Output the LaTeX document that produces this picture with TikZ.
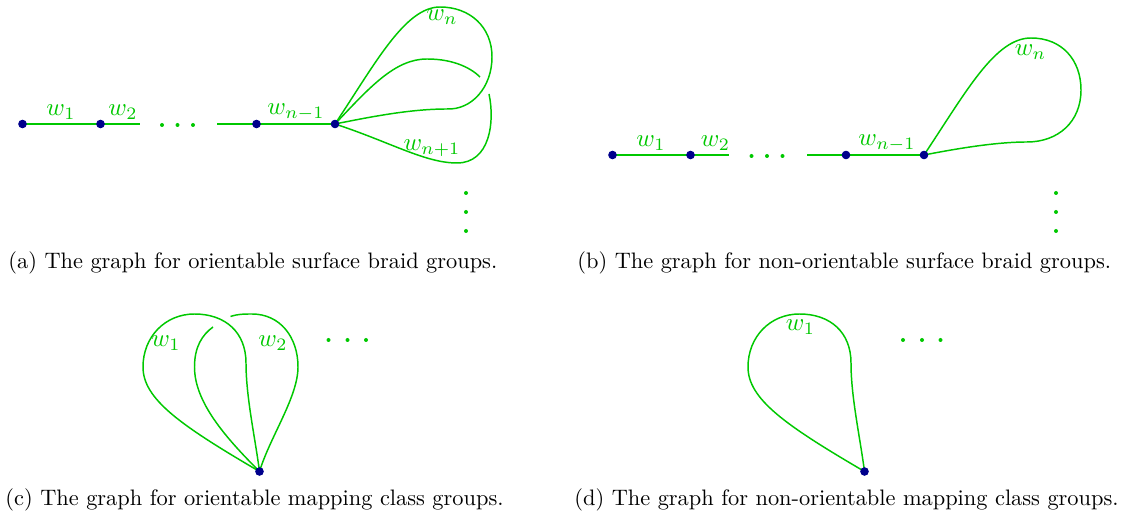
\documentclass[tikz,border=0pt]{standalone}
\usepackage{amsmath,amssymb}
\usetikzlibrary{positioning,calc}
\definecolor{edgegreen}{RGB}{0,200,0}
\definecolor{vertblue}{RGB}{0,0,140}
\tikzset{
  edge/.style={draw=edgegreen,line width=0.65pt},
  vert/.style={draw=vertblue,fill=vertblue},
  lbl/.style={text=edgegreen,inner sep=0pt,scale=1.1},
  captext/.style={anchor=west,inner sep=0pt,scale=0.985}
}
\begin{document}
\begin{tikzpicture}[x=0.44pt,y=0.44pt]
	\useasboundingbox (0,0) rectangle (1121,517);
	% (a) orientable surface braid groups
	\coordinate (a1) at (22.5,393);
	\coordinate (a2) at (100.5,393);
	\coordinate (a2e) at (140,393);
	\coordinate (a3s) at (217,393);
	\coordinate (a3) at (256.5,393);
	\coordinate (a4) at (335,393);
	\draw[edge] (a1) -- (a2) -- (a2e);
	\draw[edge] (a3s) -- (a3) -- (a4);
	\draw[edge] (a4) .. controls (375,453) and (405,510) .. (440,510)
		.. controls (470,510) and (492,490) .. (492,460)
		.. controls (492,430) and (472,407) .. (447,408)
		.. controls (410,408) and (370,400) .. (a4);
	\draw[edge] (a4) .. controls (370,430) and (395,458) .. (427,458)
		.. controls (455,458) and (472,448) .. (480,440);
	\draw[edge] (489,423) .. controls (495,395) and (490,354) .. (457,354)
		.. controls (425,354) and (390,375) .. (a4);
	\foreach \x in {162,177.5,193} \fill[edgegreen] (\x,392) circle (2);
	\foreach \y in {324,305,286} \fill[edgegreen] (466,\y) circle (2);
	\foreach \v in {a1,a2,a3,a4} \draw[vert] (\v) circle (3.8);
	\node[lbl] (la1) at (61,405) {$w_1$};
	\node[lbl] (la2) at (123,405) {$w_2$};
	\node[lbl] (la3) at (296,405) {$w_{n-1}$};
	\node[lbl] (la4) at (442,500) {$w_n$};
	\node[lbl] (la5) at (432,369) {$w_{n+1}$};
	\node[captext] (capa) at (8,254) {(a) The graph for orientable surface braid groups.};
	% (b) non-orientable surface braid groups
	\coordinate (b1) at (612.5,362);
	\coordinate (b2) at (690.5,362);
	\coordinate (b2e) at (729,362);
	\coordinate (b3s) at (807,362);
	\coordinate (b3) at (846,362);
	\coordinate (b4) at (924,362);
	\draw[edge] (b1) -- (b2) -- (b2e);
	\draw[edge] (b3s) -- (b3) -- (b4);
	\draw[edge] (b4) .. controls (966,425) and (995,479) .. (1031,479)
		.. controls (1062,479) and (1081,457) .. (1081,427)
		.. controls (1081,395) and (1058,375) .. (1027,375)
		.. controls (995,375) and (955,368) .. (b4);
	\foreach \x in {751.5,767,782.5} \fill[edgegreen] (\x,361) circle (2);
	\foreach \y in {324,305,286} \fill[edgegreen] (1056,\y) circle (2);
	\foreach \v in {b1,b2,b3,b4} \draw[vert] (\v) circle (3.8);
	\node[lbl] (lb1) at (651,374) {$w_1$};
	\node[lbl] (lb2) at (715.5,374) {$w_2$};
	\node[lbl] (lb3) at (887,374) {$w_{n-1}$};
	\node[lbl] (lb4) at (1030.5,465) {$w_n$};
	\node[captext] (capb) at (577,254) {(b) The graph for non-orientable surface braid groups.};
	% (c) orientable mapping class groups
	\coordinate (c0) at (259.5,45.5);
	\draw[edge] (c0) .. controls (180,92) and (143,118) .. (143,150)
		.. controls (143,180) and (165,203) .. (194.5,203)
		.. controls (225,203) and (246,185) .. (246,154)
		.. controls (246,120) and (255,80) .. (c0);
	\draw[edge] (c0) .. controls (225,80) and (194.5,115) .. (194.5,150)
		.. controls (194.5,170) and (202,182) .. (213,190);
	\draw[edge] (230.5,200.5) .. controls (238,203) and (244,203) .. (252,203)
		.. controls (280,203) and (298,180) .. (298,150)
		.. controls (298,120) and (270,80) .. (c0);
	\foreach \x in {328.5,347.5,366} \fill[edgegreen] (\x,177) circle (2);
	\draw[vert] (c0) circle (3.8);
	\node[lbl] (lc1) at (166,174) {$w_1$};
	\node[lbl] (lc2) at (273,174) {$w_2$};
	\node[captext] (capc) at (5,17) {(c) The graph for orientable mapping class groups.};
	% (d) non-orientable mapping class groups
	\coordinate (d0) at (864.5,45.5);
	\draw[edge] (d0) .. controls (785,92) and (748,118) .. (748,150)
		.. controls (748,180) and (770,203) .. (799.5,203)
		.. controls (830,203) and (851,185) .. (851,154)
		.. controls (851,120) and (860,80) .. (d0);
	\foreach \x in {903,922,940.5} \fill[edgegreen] (\x,177) circle (2);
	\draw[vert] (d0) circle (3.8);
	\node[lbl] (ld1) at (800.5,190) {$w_1$};
	\node[captext] (capd) at (574,17) {(d) The graph for non-orientable mapping class groups.};
\end{tikzpicture}
\end{document}
